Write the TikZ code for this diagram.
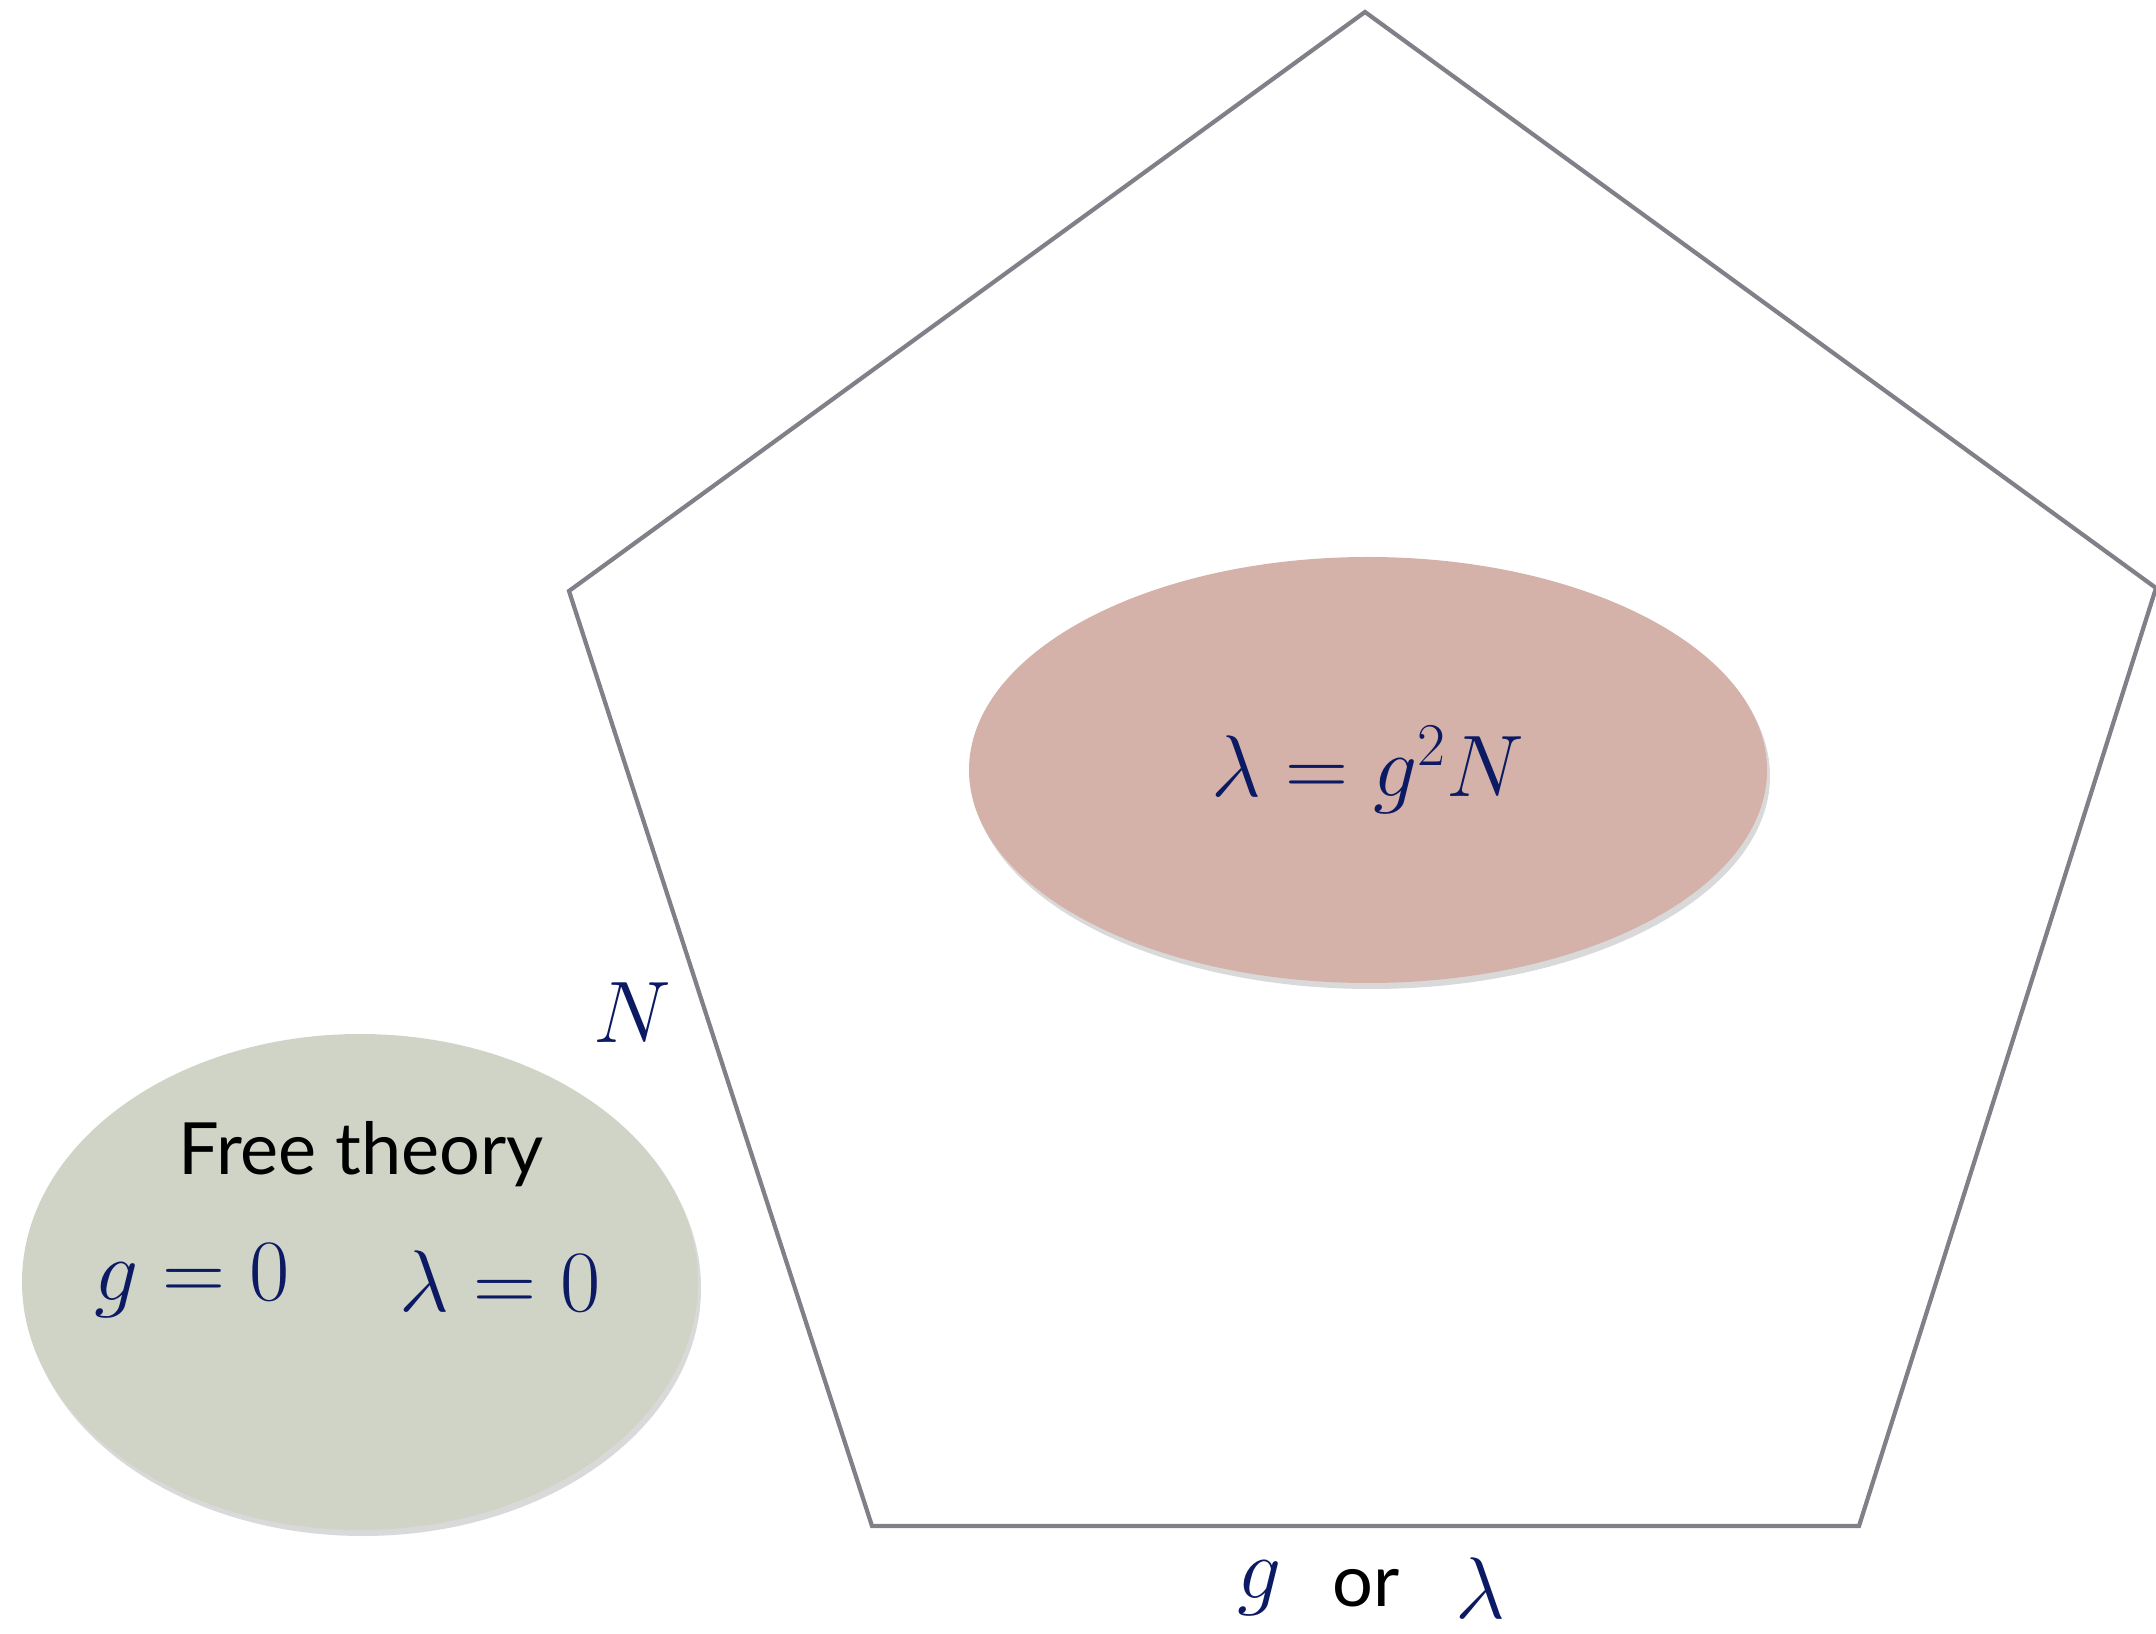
\documentclass[tikz,border=0pt]{standalone}
\usepackage{fontspec}
\setsansfont{Lato}
\usetikzlibrary{positioning, shapes.geometric, shadows}
\definecolor{rosefill}{RGB}{212, 178, 170}
\definecolor{sagefill}{RGB}{208, 212, 198}
\definecolor{mathnavy}{RGB}{12, 26, 100}
\definecolor{edgegray}{RGB}{128, 129, 136}
\tikzset{
  blob/.style={
    ellipse, inner sep=0pt,
    drop shadow={shadow xshift=0.3mm, shadow yshift=-0.6mm, opacity=0.25, fill=black!60}
  },
  mathlbl/.style={text=mathnavy, font=\fontsize{23}{27}\selectfont},
  wordlbl/.style={text=black, font=\fontsize{20.5}{25}\selectfont\sffamily},
  border/.style={draw=edgegray, line width=1.2pt, line join=miter}
}

\begin{document}
\begin{tikzpicture}
\useasboundingbox (0,0) rectangle (21.56,16.33);

% Pentagon corners
\coordinate (top) at (13.65, 16.21);
\coordinate (lft) at (5.69, 10.42);
\coordinate (rgt) at (21.56, 10.45);
\coordinate (br)  at (18.59, 1.07);
\coordinate (bl)  at (8.72, 1.07);
\draw[border] (top) -- (rgt) -- (br) -- (bl) -- (lft) -- cycle;

% Large-N region
\node[blob, fill=rosefill, minimum width=7.98cm, minimum height=4.26cm] (tHooft) at (13.68, 8.63) {};
\node[mathlbl] (tHooftlbl) at (tHooft.center) {$\lambda = g^2 N$};

% Free theory
\node[blob, fill=sagefill, minimum width=6.76cm, minimum height=4.96cm] (free) at (3.60, 3.51) {};
\node[wordlbl] (freelbl) at (3.61, 4.79) {Free theory};
\node[mathlbl] (gzero) at (1.92, 3.52) {$g = 0$};
\node[mathlbl] (lzero) at (5.00, 3.52) {$\lambda = 0$};

% Axis labels
\node[mathlbl] (Nlbl) at (6.32, 6.20) {$N$};
\node[wordlbl, inner sep=1pt] (orlbl) at (13.66, 0.45) {or};
\node[mathlbl, inner sep=1pt, left=0.42cm of orlbl.west, anchor=east] (glbl) {$g$};
\node[mathlbl, inner sep=1pt, right=0.48cm of orlbl.east, anchor=west] (llbl) {$\lambda$};

\end{tikzpicture}
\end{document}
